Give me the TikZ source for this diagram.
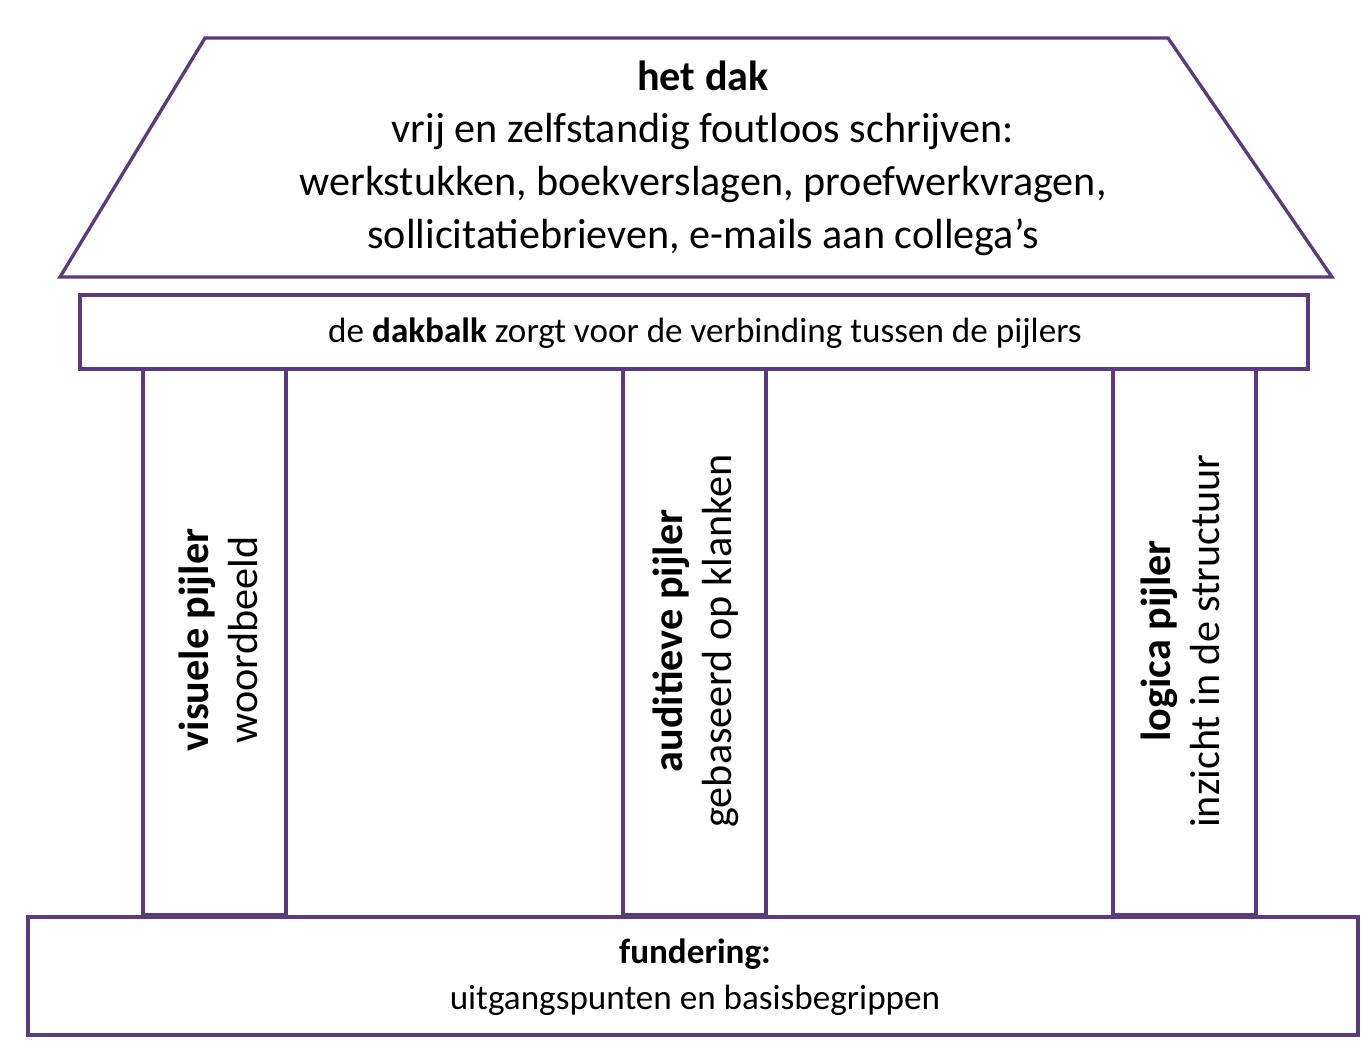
\documentclass[tikz,border=0pt]{standalone}
\usepackage{fontspec}
\setmainfont{Carlito}
\definecolor{paars}{HTML}{5B3A7E}
\begin{document}
\begin{tikzpicture}[x=0.02cm,y=-0.02cm,
  deel/.style={draw=paars,line width=1.9pt},
  pijler/.style={rotate=90,align=center,font=\fontsize{24}{28}\selectfont}]
  \useasboundingbox (0,0) rectangle (1367,1052);
  % dak
  \draw[deel] (205,38) coordinate(d1) -- (1168,38) coordinate(d2)
    -- (1332,277) coordinate(d3) -- (60,277) coordinate(d4) -- cycle;
  \node[align=center,font=\fontsize{24}{30}\selectfont] (dak) at (703,158)
    {\textbf{het dak}\\vrij en zelfstandig foutloos schrijven:\\
     werkstukken, boekverslagen, proefwerkvragen,\\
     sollicitatiebrieven, e-mails aan collega’s};
  % dakbalk
  \draw[deel] (80,295) rectangle (1308,369);
  \node[font=\fontsize{20}{24}\selectfont] (balk) at (705,333)
    {de \textbf{dakbalk} zorgt voor de verbinding tussen de pijlers};
  % pijlers
  \draw[deel] (143,369) rectangle (286,915);
  \draw[deel] (623,369) rectangle (766,915);
  \draw[deel] (1113,369) rectangle (1256,915);
  \node[pijler] (visueel) at (218,640) {\textbf{visuele pijler}\\woordbeeld};
  \node[pijler] (auditief) at (696,641) {\textbf{auditieve pijler}\\gebaseerd op klanken};
  \node[pijler] (logica) at (1180,641) {\textbf{logica pijler}\\inzicht in de structuur};
  % fundering
  \draw[deel] (28,917) rectangle (1358,1035);
  \node[align=center,font=\fontsize{20}{26}\selectfont] (fundering) at (695,977)
    {\textbf{fundering:}\\uitgangspunten en basisbegrippen};
\end{tikzpicture}
\end{document}
